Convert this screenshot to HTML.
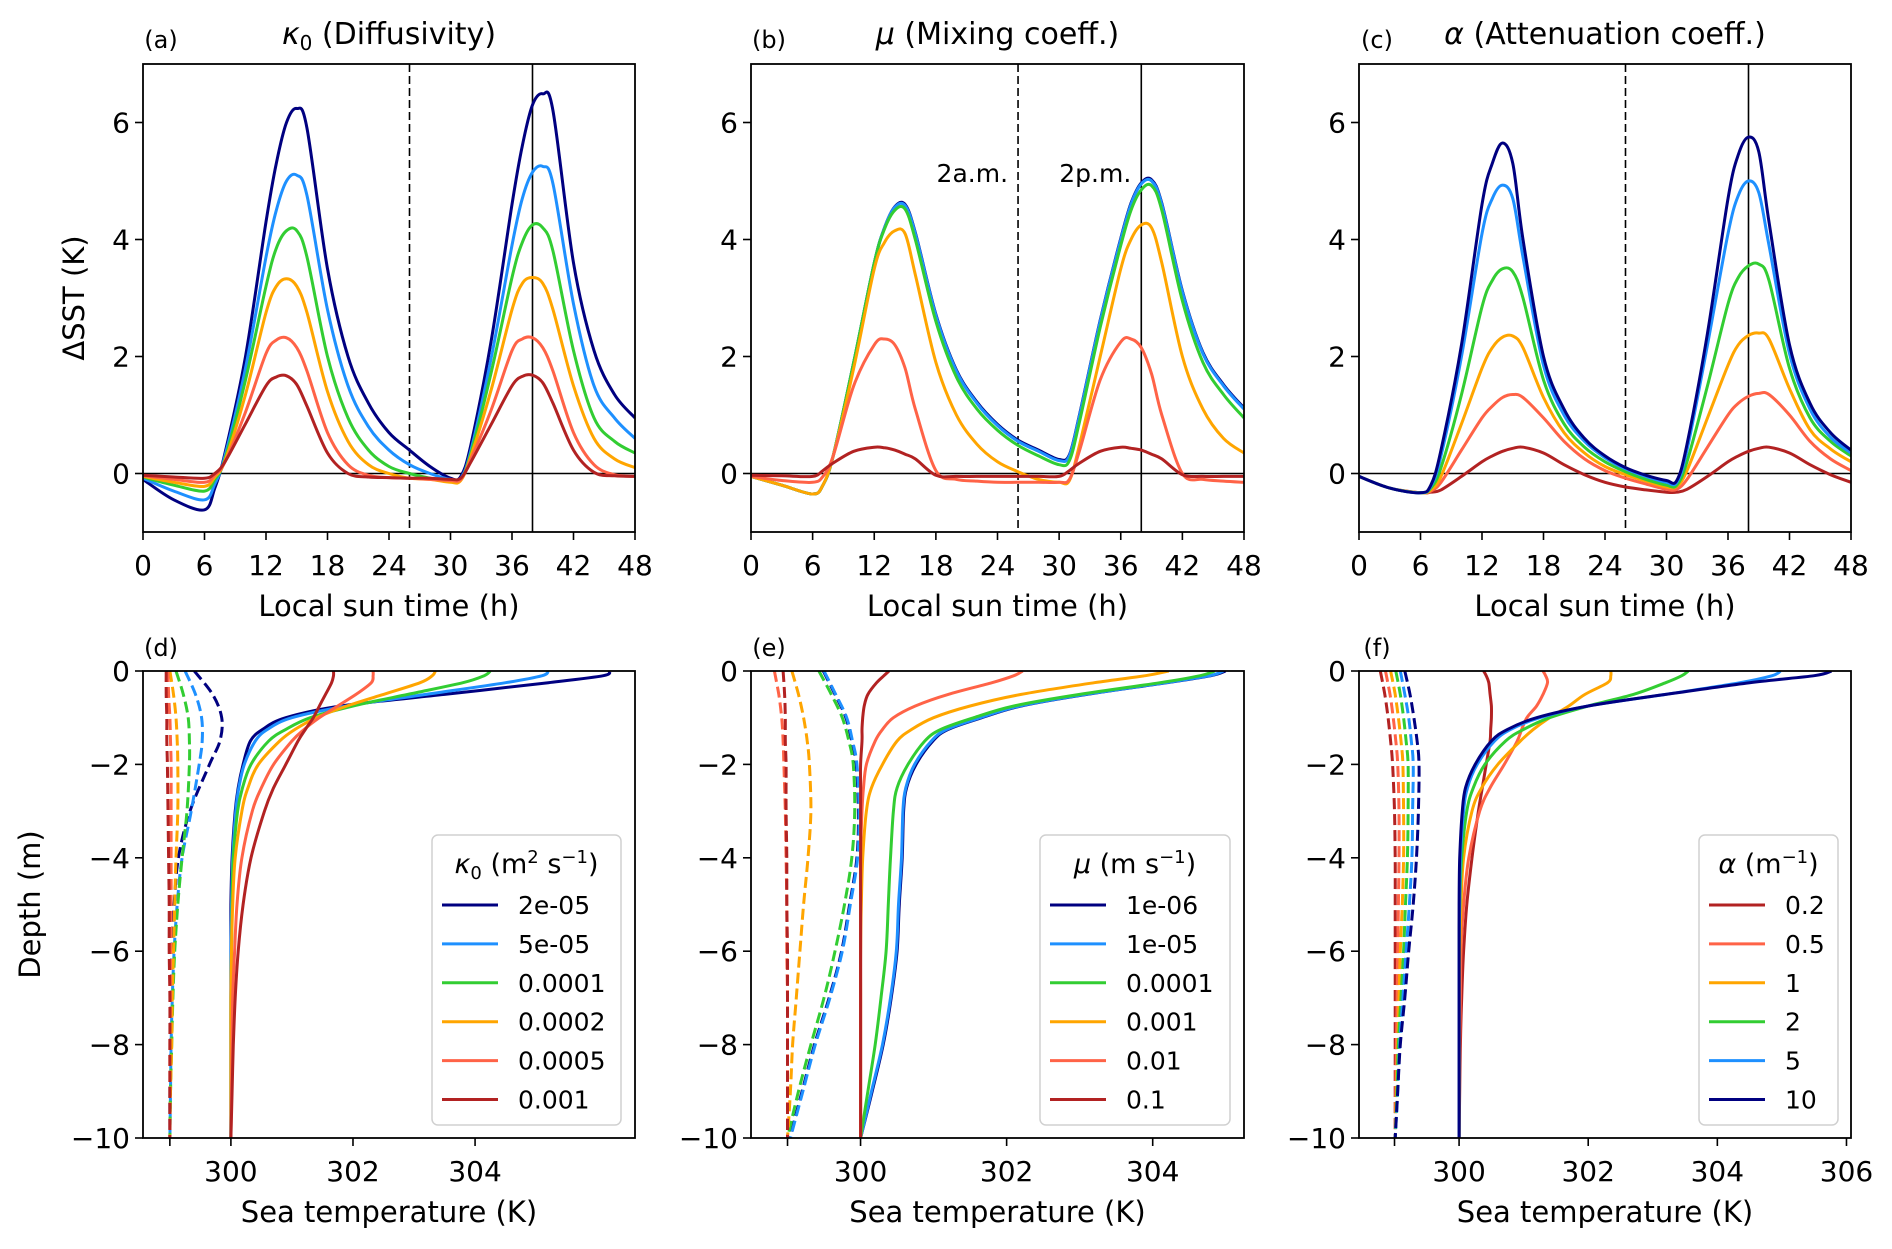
<!DOCTYPE html>
<html><head><meta charset="utf-8"><style>
html,body{margin:0;padding:0;background:#fff}
svg{display:block}
text{font-family:"DejaVu Sans","Liberation Sans",sans-serif;fill:#000}
</style></head><body>
<svg id="fig" width="1892" height="1249" viewBox="0 0 1892 1249" xmlns="http://www.w3.org/2000/svg"></svg>
<script>
// ---------- data: top row (ΔSST time series) ----------
const hours = [0,3,6,7,8,10,12,13,14,15,16,18,20,22,24,26,28,30,31,32,34,36,37,38,39,40,42,44,46,48];
const colors = ["#000080","#1e90ff","#32cd32","#ffa500","#ff6347","#b22222"];
const colorsF = ["#b22222","#ff6347","#ffa500","#32cd32","#1e90ff","#000080"];

const kappaLabels = ["2e-05","5e-05","0.0001","0.0002","0.0005","0.001"];
const kappaNavy   = [-0.1,-0.45,-0.62,-0.25,0.35,2.0,4.3,5.3,6.0,6.24,5.9,3.5,2.0,1.2,0.7,0.4,0.12,-0.08,-0.05,0.5,2.3,4.6,5.6,6.3,6.49,6.2,3.6,2.1,1.35,0.95];
const kappaBlue   = [-0.08,-0.3,-0.45,-0.18,0.3,1.8,3.7,4.5,5.0,5.1,4.75,2.8,1.5,0.8,0.4,0.15,0.0,-0.1,-0.08,0.4,2.0,3.9,4.7,5.15,5.25,4.95,2.9,1.5,0.95,0.6];
const kappaGreen  = [-0.06,-0.2,-0.3,-0.1,0.25,1.6,3.2,3.85,4.15,4.15,3.7,2.0,0.95,0.4,0.12,0.0,-0.08,-0.12,-0.1,0.35,1.75,3.35,3.95,4.25,4.2,3.8,2.1,0.95,0.55,0.35];
const kappaOrange = [-0.05,-0.15,-0.22,-0.06,0.22,1.35,2.75,3.2,3.33,3.2,2.75,1.4,0.55,0.15,0.0,-0.08,-0.1,-0.15,-0.12,0.3,1.45,2.8,3.25,3.35,3.25,2.8,1.5,0.6,0.25,0.1];
const kappaRed    = [-0.04,-0.1,-0.15,-0.03,0.2,1.05,2.05,2.28,2.32,2.15,1.75,0.7,0.15,-0.03,-0.07,-0.08,-0.1,-0.12,-0.1,0.25,1.1,2.1,2.3,2.32,2.15,1.75,0.7,0.15,-0.02,-0.05];
const kappaDark   = [-0.03,-0.06,-0.08,0.0,0.2,0.85,1.5,1.65,1.67,1.52,1.15,0.35,0.0,-0.06,-0.07,-0.08,-0.08,-0.1,-0.08,0.2,0.85,1.5,1.66,1.68,1.55,1.2,0.4,0.02,-0.04,-0.05];

const muLabels = ["1e-06","1e-05","0.0001","0.001","0.01","0.1"];
const muNavy   = [-0.05,-0.2,-0.35,-0.2,0.3,1.9,3.6,4.2,4.56,4.6,4.12,2.72,1.77,1.22,0.84,0.57,0.4,0.24,0.32,1.02,2.62,4.02,4.62,4.97,5.02,4.62,3.12,2.07,1.52,1.12];
const muBlue   = [-0.05,-0.2,-0.35,-0.2,0.3,1.9,3.6,4.2,4.55,4.58,4.1,2.7,1.75,1.2,0.82,0.55,0.38,0.22,0.3,1.0,2.6,4.0,4.6,4.95,5.0,4.6,3.1,2.05,1.5,1.1];
const muGreen  = [-0.05,-0.2,-0.35,-0.2,0.3,1.9,3.6,4.18,4.5,4.52,4.0,2.6,1.65,1.1,0.74,0.48,0.3,0.15,0.22,0.9,2.5,3.9,4.5,4.85,4.92,4.5,2.95,1.9,1.35,0.95];
const muOrange = [-0.05,-0.2,-0.35,-0.2,0.3,1.8,3.5,3.95,4.15,4.1,3.4,1.9,1.0,0.5,0.2,0.03,-0.1,-0.15,-0.12,0.5,2.0,3.5,4.0,4.25,4.2,3.6,2.0,1.1,0.6,0.35];
const muRed    = [-0.05,-0.12,-0.15,-0.05,0.3,1.5,2.2,2.3,2.2,1.8,1.1,0.05,-0.1,-0.13,-0.15,-0.15,-0.15,-0.15,-0.1,0.4,1.6,2.25,2.3,2.15,1.7,1.0,0.0,-0.1,-0.13,-0.15];
const muDark   = [-0.03,-0.04,-0.05,0.05,0.18,0.38,0.45,0.44,0.4,0.33,0.25,-0.03,-0.05,-0.05,-0.05,-0.05,-0.05,-0.05,0.05,0.18,0.38,0.45,0.43,0.4,0.33,0.25,-0.02,-0.05,-0.05,-0.05];

const alphaLabels = ["0.2","0.5","1","2","5","10"];
const alphaNavy   = [-0.05,-0.25,-0.33,-0.2,0.4,2.2,4.6,5.3,5.65,5.3,4.0,2.0,1.1,0.6,0.3,0.1,-0.03,-0.12,-0.12,0.5,2.4,4.7,5.45,5.75,5.5,4.3,2.2,1.2,0.7,0.4];
const alphaBlue   = [-0.05,-0.25,-0.33,-0.22,0.3,2.0,4.1,4.7,4.93,4.7,3.7,1.85,1.0,0.55,0.27,0.08,-0.05,-0.15,-0.15,0.4,2.2,4.1,4.75,5.0,4.8,3.9,2.05,1.1,0.62,0.35];
const alphaGreen  = [-0.05,-0.25,-0.33,-0.25,0.1,1.35,2.85,3.3,3.5,3.45,3.0,1.6,0.85,0.45,0.2,0.03,-0.1,-0.2,-0.2,0.2,1.5,2.9,3.35,3.55,3.58,3.3,1.8,0.95,0.55,0.3];
const alphaOrange = [-0.05,-0.25,-0.33,-0.28,-0.05,0.85,1.8,2.15,2.33,2.35,2.15,1.3,0.7,0.35,0.12,-0.02,-0.13,-0.23,-0.22,0.05,0.95,1.85,2.2,2.36,2.4,2.3,1.45,0.75,0.42,0.2];
const alphaRed    = [-0.05,-0.25,-0.33,-0.3,-0.15,0.4,0.95,1.15,1.3,1.35,1.3,0.95,0.55,0.25,0.05,-0.08,-0.18,-0.27,-0.27,-0.1,0.45,1.0,1.2,1.32,1.37,1.35,1.0,0.55,0.25,0.05];
const alphaDark   = [-0.05,-0.25,-0.33,-0.32,-0.28,-0.05,0.2,0.3,0.38,0.43,0.45,0.35,0.15,-0.02,-0.15,-0.23,-0.28,-0.32,-0.32,-0.27,-0.05,0.2,0.3,0.38,0.43,0.45,0.35,0.15,-0.02,-0.15];

// ---------- data: bottom row (depth profiles) ----------
const depthSolid  = [0,-0.1,-0.25,-0.5,-0.75,-1,-1.25,-1.5,-2,-2.5,-3,-4,-5,-6,-7,-8,-9,-10];
const depthDashed = [0,-0.5,-1,-1.5,-2,-3,-4,-5,-6,-7,-8,-9,-10];

const dSolidNavy   = [306.2,306.1,305.2,303.5,301.8,300.9,300.52,300.32,300.2,300.12,300.07,300.02,300,300,300,300,300,300];
const dSolidBlue   = [305.2,305.1,304.5,303.2,301.9,301.0,300.6,300.4,300.22,300.13,300.08,300.03,300.01,300,300,300,300,300];
const dSolidGreen  = [304.25,304.15,303.8,302.9,302.0,301.3,300.9,300.62,300.33,300.19,300.11,300.04,300.02,300.01,300,300,300,300];
const dSolidOrange = [303.35,303.3,303.1,302.5,301.9,301.4,301.05,300.8,300.45,300.28,300.18,300.07,300.03,300.01,300,300,300,300];
const dSolidRed    = [302.33,302.33,302.3,302.05,301.75,301.45,301.2,301.0,300.7,300.5,300.35,300.18,300.1,300.06,300.03,300.02,300.01,300];
const dSolidDark   = [301.68,301.68,301.65,301.55,301.45,301.35,301.22,301.1,300.9,300.7,300.55,300.33,300.2,300.12,300.07,300.04,300.02,300];
const dDashNavy   = [299.4,299.7,299.85,299.82,299.65,299.33,299.14,299.07,299.03,299.02,299.01,299.0,299.0];
const dDashBlue   = [299.25,299.42,299.52,299.53,299.48,299.35,299.2,299.12,299.07,299.04,299.02,299.01,299.0];
const dDashGreen  = [299.1,299.22,299.3,299.32,299.32,299.28,299.2,299.13,299.08,299.05,299.03,299.01,299.0];
const dDashOrange = [299.0,299.06,299.1,299.12,299.13,299.13,299.1,299.08,299.06,299.04,299.03,299.01,299.0];
const dDashRed    = [298.97,298.98,299.0,299.01,299.02,299.02,299.02,299.02,299.01,299.01,299.0,299.0,299.0];
const dDashDark   = [298.94,298.94,298.95,298.95,298.96,298.97,298.98,298.99,298.99,299.0,299.0,299.0,299.0];

const eSolidNavy   = [305.0,304.8,304.2,303.1,302.2,301.66,301.2,300.99,300.76,300.63,300.59,300.57,300.53,300.5,300.42,300.31,300.16,300.0];
const eSolidBlue   = [304.97,304.78,304.18,303.08,302.18,301.64,301.18,300.97,300.74,300.62,300.58,300.56,300.52,300.49,300.41,300.3,300.15,300.0];
const eSolidGreen  = [304.85,304.65,304.1,303.0,302.1,301.55,301.1,300.88,300.65,300.5,300.45,300.41,300.38,300.35,300.28,300.2,300.1,300.0];
const eSolidOrange = [304.22,303.9,303.2,302.2,301.5,301.0,300.7,300.5,300.3,300.15,300.08,300.03,300.01,300,300,300,300,300];
const eSolidRed    = [302.22,302.1,301.8,301.2,300.75,300.45,300.3,300.2,300.08,300.04,300.02,300.0,300,300,300,300,300,300];
const eSolidDark   = [300.39,300.32,300.22,300.1,300.05,300.03,300.02,300.02,300.0,300,300,300,300,300,300,300,300,300];
const eDashNavy   = [299.49,299.65,299.8,299.88,299.94,299.97,299.95,299.85,299.74,299.57,299.37,299.2,299.03];
const eDashBlue   = [299.5,299.66,299.81,299.89,299.95,299.98,299.96,299.86,299.75,299.58,299.38,299.21,299.04];
const eDashGreen  = [299.43,299.6,299.75,299.84,299.9,299.92,299.88,299.78,299.65,299.5,299.32,299.15,299.0];
const eDashOrange = [299.06,299.15,299.22,299.27,299.3,299.32,299.28,299.22,299.17,299.12,299.07,299.04,299.0];
const eDashRed    = [298.82,298.88,298.92,298.94,298.95,298.97,298.98,298.99,298.99,299.0,299.0,299.0,299.0];
const eDashDark   = [298.94,298.96,298.97,298.97,298.98,298.98,298.99,298.99,299.0,299.0,299.0,299.0,299.0];

const fSolidDark   = [300.38,300.42,300.46,300.48,300.5,300.5,300.49,300.48,300.42,300.36,300.3,300.2,300.12,300.07,300.04,300.02,300.01,300];
const fSolidRed    = [301.3,301.34,301.37,301.3,301.2,301.05,300.97,300.9,300.7,300.48,300.32,300.15,300.07,300.03,300.02,300.01,300,300];
const fSolidOrange = [302.35,302.35,302.3,301.95,301.7,301.4,301.15,300.95,300.6,300.35,300.2,300.07,300.03,300.01,300,300,300,300];
const fSolidGreen  = [303.55,303.45,303.2,302.7,302.0,301.4,301.0,300.72,300.4,300.22,300.12,300.04,300.01,300,300,300,300,300];
const fSolidBlue   = [304.98,304.85,304.35,303.2,302.0,301.25,300.8,300.55,300.28,300.13,300.07,300.02,300.01,300,300,300,300,300];
const fSolidNavy   = [305.77,305.5,304.5,303.2,302.0,301.2,300.75,300.5,300.25,300.1,300.05,300.01,300,300,300,300,300,300];
const fDashDark   = [298.78,298.85,298.9,298.94,298.97,299.0,299.01,299.01,299.01,299.01,299.01,299.01,299.01];
const fDashRed    = [298.86,298.93,298.98,299.02,299.05,299.07,299.07,299.06,299.05,299.04,299.03,299.02,299.01];
const fDashOrange = [298.94,299.01,299.06,299.1,299.13,299.14,299.14,299.12,299.09,299.07,299.05,299.03,299.01];
const fDashGreen  = [299.02,299.09,299.14,299.18,299.21,299.21,299.2,299.17,299.14,299.1,299.06,299.04,299.01];
const fDashBlue   = [299.09,299.16,299.22,299.26,299.29,299.28,299.27,299.23,299.18,299.13,299.08,299.05,299.01];
const fDashNavy   = [299.16,299.24,299.3,299.35,299.38,299.37,299.34,299.29,299.22,299.16,299.09,299.05,299.01];

const hourTicks = [0,6,12,18,24,30,36,42,48];
const dsstTicks = [0,2,4,6];
const depthTicks = [0,-2,-4,-6,-8,-10];
const tempTicksDE = [300,302,304];
const tempTicksF = [300,302,304,306];

// ---------- drawing ----------
const NS = "http://www.w3.org/2000/svg";
const svg = document.getElementById("fig");
function mk(tag, attrs, parent){
  const e = document.createElementNS(NS, tag);
  for (const k in attrs) e.setAttribute(k, attrs[k]);
  (parent||svg).appendChild(e);
  return e;
}
function smoothPath(pts){
  let d = "M" + pts[0][0].toFixed(1) + "," + pts[0][1].toFixed(1);
  for (let i=0;i<pts.length-1;i++){
    const p0 = pts[Math.max(0,i-1)], p1 = pts[i], p2 = pts[i+1], p3 = pts[Math.min(pts.length-1,i+2)];
    const c1x = p1[0]+(p2[0]-p0[0])/6, c1y = p1[1]+(p2[1]-p0[1])/6;
    const c2x = p2[0]-(p3[0]-p1[0])/6, c2y = p2[1]-(p3[1]-p1[1])/6;
    d += " C"+c1x.toFixed(1)+","+c1y.toFixed(1)+" "+c2x.toFixed(1)+","+c2y.toFixed(1)+" "+p2[0].toFixed(1)+","+p2[1].toFixed(1);
  }
  return d;
}
let clipId = 0;
function makeAxes(box, xr, yr){
  const sx = v => box.x0 + (v - xr[0])/(xr[1]-xr[0])*(box.x1-box.x0);
  const sy = v => box.y1 - (v - yr[0])/(yr[1]-yr[0])*(box.y1-box.y0);
  const id = "clip"+(clipId++);
  const cp = mk("clipPath",{id:id});
  mk("rect",{x:box.x0,y:box.y0,width:box.x1-box.x0,height:box.y1-box.y0},cp);
  const g = mk("g",{"clip-path":"url(#"+id+")"});
  
  
  return {sx, sy, g, box};
}
function frame(ax, name){
  const b = ax.box;
  const r = mk("rect",{x:b.x0,y:b.y0,width:b.x1-b.x0,height:b.y1-b.y0,fill:"none",stroke:"#000","stroke-width":1.8});
  
  
}
function xTicks(ax, ticks, labelY, name, extra){
  const b = ax.box;
  const all = ticks.concat(extra||[]);
  all.forEach(v=>{
    const x = ax.sx(v);
    const t = mk("line",{x1:x,x2:x,y1:b.y1,y2:b.y1+8,stroke:"#000","stroke-width":1.6});
    
    
  });
  ticks.forEach(v=>{
    const tx = mk("text",{x:ax.sx(v),y:labelY,"font-size":28,"text-anchor":"middle"});
    tx.textContent = String(v).replace("-","\u2212");
    
    
  });
}
function yTicks(ax, ticks, name){
  const b = ax.box;
  ticks.forEach(v=>{
    const y = ax.sy(v);
    const t = mk("line",{x1:b.x0-8,x2:b.x0,y1:y,y2:y,stroke:"#000","stroke-width":1.6});
    
    
    const tx = mk("text",{x:b.x0-13,y:y+10,"font-size":28,"text-anchor":"end"});
    tx.textContent = String(v).replace("-","\u2212");
    
    
  });
}
function label(x,y,txt,size,name,anchor,rot){
  const a = {x:x,y:y,"font-size":size,"text-anchor":anchor||"middle"};
  if (rot) a.transform = "rotate(-90 "+x+" "+y+")";
  const t = mk("text",a);
  t.innerHTML = txt;
  
  
  return t;
}

// ----- top row -----
const topY0 = 64, topY1 = 532;
const colsX = [[143,635],[751,1244],[1359,1851]];
const topSeries = [
  [kappaNavy,kappaBlue,kappaGreen,kappaOrange,kappaRed,kappaDark],
  [muNavy,muBlue,muGreen,muOrange,muRed,muDark],
  [alphaDark,alphaRed,alphaOrange,alphaGreen,alphaBlue,alphaNavy]
];
const topColors = [colors, colors, colorsF];
const topLetters = ["(a)","(b)","(c)"];
const topTitles = ['<tspan font-style="italic">κ</tspan><tspan font-size="20" dy="6">0</tspan><tspan dy="-6"> (Diffusivity)</tspan>',
  '<tspan font-style="italic">μ</tspan> (Mixing coeff.)',
  '<tspan font-style="italic">α</tspan> (Attenuation coeff.)'];
const panelNames = ["kappa","mu","alpha"];
for (let p=0;p<3;p++){
  const box = {x0:colsX[p][0],x1:colsX[p][1],y0:topY0,y1:topY1};
  const ax = makeAxes(box,[0,48],[-1,7]);
  const nm = "panel-"+"abc"[p];
  const z = mk("line",{x1:box.x0,x2:box.x1,y1:ax.sy(0),y2:ax.sy(0),stroke:"#000","stroke-width":1.6},ax.g);
  
  
  const v1 = mk("line",{x1:ax.sx(26),x2:ax.sx(26),y1:box.y0,y2:box.y1,stroke:"#000","stroke-width":1.6,"stroke-dasharray":"8,4"},ax.g);
  
  
  const v2 = mk("line",{x1:ax.sx(38),x2:ax.sx(38),y1:box.y0,y2:box.y1,stroke:"#000","stroke-width":1.6},ax.g);
  
  
  topSeries[p].forEach((s,i)=>{
    const pts = hours.map((h,k)=>[ax.sx(h), ax.sy(s[k])]);
    const path = mk("path",{d:smoothPath(pts),fill:"none",stroke:topColors[p][i],"stroke-width":3,"stroke-linejoin":"round"},ax.g);
    
    
  });
  frame(ax, nm);
  xTicks(ax, hourTicks, 575, nm);
  yTicks(ax, dsstTicks, nm);
  label((box.x0+box.x1)/2, 616, "Local sun time (h)", 29, nm+"-x-axis-title");
  label(box.x0+18, 48, topLetters[p], 24, nm+"-letter");
  label((box.x0+box.x1)/2, 44, topTitles[p], 30, nm+"-title");
  if (p===1){
    label(ax.sx(26)-10, 182, "2a.m.", 25, "annotation-2am", "end");
    label(ax.sx(38)-10, 182, "2p.m.", 25, "annotation-2pm", "end");
  }
}
label(84, (topY0+topY1)/2, "ΔSST (K)", 29, "y-axis-title-dsst", "middle", true);

// ----- bottom row -----
const botY0 = 671, botY1 = 1138;
const botXr = [[298.56,306.62],[298.5,305.25],[298.45,306.07]];
const botSolid = [
  [dSolidNavy,dSolidBlue,dSolidGreen,dSolidOrange,dSolidRed,dSolidDark],
  [eSolidNavy,eSolidBlue,eSolidGreen,eSolidOrange,eSolidRed,eSolidDark],
  [fSolidDark,fSolidRed,fSolidOrange,fSolidGreen,fSolidBlue,fSolidNavy]
];
const botDash = [
  [dDashNavy,dDashBlue,dDashGreen,dDashOrange,dDashRed,dDashDark],
  [eDashNavy,eDashBlue,eDashGreen,eDashOrange,eDashRed,eDashDark],
  [fDashDark,fDashRed,fDashOrange,fDashGreen,fDashBlue,fDashNavy]
];
const botLetters = ["(d)","(e)","(f)"];
const legendLabels = [kappaLabels, muLabels, alphaLabels];
const legendTitles = ['<tspan font-style="italic">κ</tspan><tspan font-size="18" dy="6">0</tspan><tspan dy="-6"> (m</tspan><tspan font-size="18" dy="-10">2</tspan><tspan dy="10"> s</tspan><tspan font-size="18" dy="-10">−1</tspan><tspan dy="10">)</tspan>',
  '<tspan font-style="italic">μ</tspan> (m s<tspan font-size="18" dy="-10">−1</tspan><tspan dy="10">)</tspan>',
  '<tspan font-style="italic">α</tspan> (m<tspan font-size="18" dy="-10">−1</tspan><tspan dy="10">)</tspan>'];
const legendBox = [[432,621],[1040,1230],[1699,1838]];
for (let p=0;p<3;p++){
  const box = {x0:colsX[p][0],x1:colsX[p][1],y0:botY0,y1:botY1};
  const ax = makeAxes(box, botXr[p], [-10,0]);
  const nm = "panel-"+"def"[p];
  const cols = p===2 ? colorsF : colors;
  botDash[p].forEach((s,i)=>{
    const pts = depthDashed.map((d,k)=>[ax.sx(s[k]), ax.sy(d)]);
    const path = mk("path",{d:smoothPath(pts),fill:"none",stroke:cols[i],"stroke-width":3,"stroke-dasharray":"11,5"},ax.g);
    
    
  });
  botSolid[p].forEach((s,i)=>{
    const pts = depthSolid.map((d,k)=>[ax.sx(s[k]), ax.sy(d)]);
    const path = mk("path",{d:smoothPath(pts),fill:"none",stroke:cols[i],"stroke-width":3,"stroke-linejoin":"round"},ax.g);
    
    
  });
  frame(ax, nm);
  xTicks(ax, p===2 ? tempTicksF : tempTicksDE, 1181, nm, [299]);
  yTicks(ax, depthTicks, nm);
  label((box.x0+box.x1)/2, 1222, "Sea temperature (K)", 29, nm+"-x-axis-title");
  label(box.x0+18, 656, botLetters[p], 24, nm+"-letter");
  // legend
  const lb = legendBox[p];
  const lg = mk("g",{});
  
  
  mk("rect",{x:lb[0],y:835,width:lb[1]-lb[0],height:290,rx:6,fill:"#fff","fill-opacity":0.8,stroke:"#d0d0d0","stroke-width":1.5},lg);
  const lt = mk("text",{x:(lb[0]+lb[1])/2,y:873,"font-size":27,"text-anchor":"middle"},lg);
  lt.innerHTML = legendTitles[p];
  
  
  legendLabels[p].forEach((t,i)=>{
    const y = 905 + i*38.9;
    const ln = mk("line",{x1:lb[0]+10,x2:lb[0]+66,y1:y,y2:y,stroke:cols[i],"stroke-width":3},lg);
    
    
    const tx = mk("text",{x:lb[0]+86,y:y+9,"font-size":25},lg);
    tx.textContent = t;
    
    
  });
}
label(40, (botY0+botY1)/2, "Depth (m)", 29, "y-axis-title-depth", "middle", true);
</script>
</body></html>
